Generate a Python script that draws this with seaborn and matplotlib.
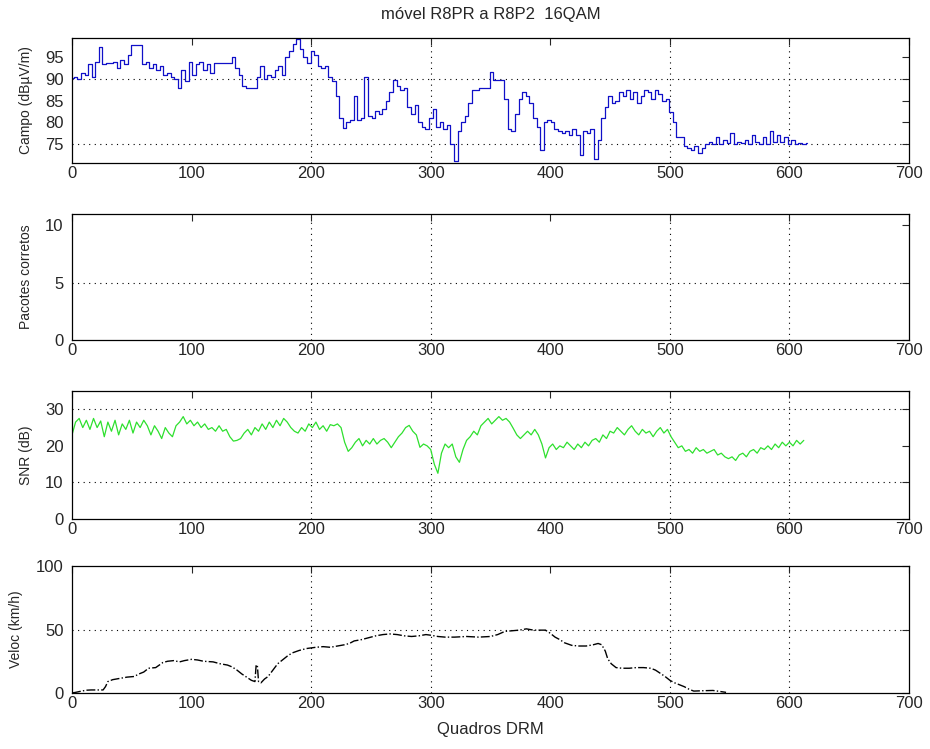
import numpy as np
import seaborn as sns
import matplotlib.pyplot as plt

# field strength (dBuV/m), sampled every 3 frames
campo_x = list(range(0, 616, 3))
campo_y = [90.2, 90.5, 90, 91.3, 91, 93.5, 90.5, 94, 97.5, 93.5, 93.7, 93.7, 94, 92.5, 94.5,
           93.5, 95.5, 97.8, 97.8, 97.8, 93.5, 94, 92.5, 93.5, 92, 93, 91, 91.5, 90.5, 90,
           88, 92, 89.5, 94, 91, 93.5, 94, 92, 93.5, 91.5, 93.7, 93.7, 93.7, 93.7, 93.7,
           95.2, 92.5, 91, 88.5, 88, 88, 88, 90.5, 93, 90, 91, 90.5, 92, 93, 91,
           95, 96.5, 98, 99.3, 97, 95, 93.7, 96.5, 95.5, 93, 92.5, 93, 90.5, 89.5, 86,
           81, 78.8, 80, 80.5, 86, 80.5, 81, 90.5, 81.5, 81, 82.6, 82, 83, 85, 87,
           89.8, 88.5, 87.5, 88, 83.5, 82, 84, 80, 79, 78.5, 81, 83, 79, 80, 78.5,
           79.5, 75, 71, 78, 80, 81.5, 84.5, 87.5, 87.5, 88, 88, 88, 91.6, 89.8, 89.8,
           89.8, 85.5, 78.5, 78, 82, 85.5, 87, 86, 84.5, 81, 79, 73.6, 80, 80.5, 80,
           78.5, 78, 77.5, 78, 77, 78.5, 77, 72.5, 78, 77.5, 78.5, 71.5, 76, 81, 83.5,
           86, 84.5, 85, 87, 86, 87.5, 85.5, 87, 84.5, 86, 87.5, 87, 85.5, 87.5, 86.5,
           85, 85.5, 82.5, 80, 76.6, 76.5, 74.5, 74, 73.5, 74.5, 73, 74, 75, 75.5, 75,
           76.5, 75, 76, 75.3, 77.5, 75, 75.5, 75.2, 76, 75, 77, 75.5, 75, 76.5, 75,
           78, 75.5, 77, 75.5, 76.5, 75, 76, 75, 75.2, 75, 75.3]

# SNR (dB), sampled every 3 frames
snr_x = list(range(0, 613, 3))
snr_y = [23, 26.5, 27.5, 25, 27, 24.5, 27.5, 25, 26.8, 22.5, 26.5, 24, 27, 23, 26,
         24.5, 27, 23.5, 26.5, 25, 27, 25.5, 23, 25.5, 24, 22, 25, 23.5, 22.5, 25.5,
         26.5, 28, 26, 27, 25.5, 26.5, 25, 26, 24.5, 25, 24, 25.5, 24, 24.5, 22.5,
         21.3, 21.5, 22, 23.5, 24.5, 23, 25, 24, 26, 24.5, 26.5, 25, 27, 25.5, 27.5,
         26.5, 25, 24, 23.5, 25, 24, 26, 25, 26.5, 24.5, 25.5, 24, 25.8, 25.5, 26,
         25, 21, 18.5, 19.5, 21, 22, 20, 21.5, 20.5, 22, 20.5, 21.5, 22, 21, 19.5,
         21, 22.5, 23.5, 25, 25.6, 24, 23, 19.6, 20.5, 20, 19, 15, 12.5, 18, 20.5,
         19.5, 20.5, 17, 15.5, 19, 21.5, 22.5, 24, 23, 25.5, 26.5, 27.5, 26, 27, 28,
         27, 27.5, 26.5, 24.8, 23, 22, 23, 24, 23, 24.5, 23, 20.5, 16.7, 19.5, 20.5,
         19, 20, 19.5, 21, 20, 19, 20.5, 19.5, 21, 20, 21.5, 22, 21, 23, 22,
         24, 23.5, 25, 24, 23, 24.5, 25.5, 24, 23, 24.5, 23.5, 24, 22.5, 24, 25,
         23.5, 24.5, 22.5, 21, 19.5, 20, 18.5, 19, 18, 19.5, 18.5, 19, 18, 18.5, 19,
         17.5, 18, 17, 16.5, 17, 16, 17.5, 18, 17, 18.5, 19, 18, 19.5, 19, 20,
         19, 20.5, 19.5, 21, 20, 21, 20, 21.5, 20.5, 21.5]

# speed (km/h)
veloc_x = [0, 3, 8, 12, 16, 22, 26, 28, 30, 34, 40, 46, 52, 56, 60, 64, 70, 76, 80, 85,
           90, 94, 100, 105, 110, 118, 124, 130, 134, 138, 142, 146, 150, 153, 154, 155,
           156, 158, 161, 164, 168, 172, 176, 180, 184, 190, 196, 200, 204, 210, 216,
           222, 228, 232, 236, 242, 248, 254, 260, 266, 272, 278, 284, 290, 296, 300,
           306, 312, 320, 330, 340, 350, 356, 362, 368, 374, 380, 386, 392, 396, 400,
           404, 408, 412, 418, 424, 430, 436, 440, 443, 446, 448, 451, 455, 460, 466,
           472, 478, 484, 488, 492, 496, 500, 504, 508, 512, 516, 520, 528, 536, 542, 547]
veloc_y = [0, 0.5, 1.5, 2.2, 2.4, 2.4, 2.4, 5, 9, 10.5, 11.5, 12.5, 13, 15, 16.5, 19.5,
           20, 24, 25, 25.5, 24.5, 25.5, 26.5, 26, 25, 24.5, 23, 22, 20.5, 18, 15, 12.5,
           10, 9, 22, 22, 9, 8, 11, 13, 18, 23, 26, 29, 31.5, 33.5, 35, 35.5, 36, 36.5,
           36, 37, 38, 39, 41, 42, 43.5, 45, 46, 46.5, 46, 45, 44.5, 45, 46, 45.5, 44.5,
           44, 44, 44.5, 44, 44.5, 46, 48.5, 49, 49.5, 50.5, 49.5, 49.5, 49.5, 47, 44,
           42, 39.5, 37.5, 37, 37, 38, 39, 38, 33, 27, 23, 20, 19.5, 19.5, 20, 20,
           19.5, 18, 15.5, 13, 10, 8, 6.5, 5, 3, 1.5, 1.8, 2, 1.2, 0.5]

x_ticks = [0, 100, 200, 300, 400, 500, 600, 700]

sns.set_style("white")
plt.rcParams['font.family'] = ['Liberation Sans', 'DejaVu Sans']

fig = plt.figure(figsize=(9.3, 7.49), dpi=100)
left, width = 72 / 930, 837 / 930
boxes = [(38, 163), (214, 340), (391, 519), (566, 693)]
axes = [fig.add_axes([left, 1 - b / 749, width, (b - t) / 749]) for t, b in boxes]
ax1, ax2, ax3, ax4 = axes

sns.lineplot(x=campo_x, y=campo_y, ax=ax1, color='#1010c8', linewidth=0.9,
             drawstyle='steps-mid', estimator=None, sort=False)
sns.lineplot(x=snr_x, y=snr_y, ax=ax3, color='#2ee02e', linewidth=0.9,
             estimator=None, sort=False)
sns.lineplot(x=veloc_x, y=veloc_y, ax=ax4, color='black', linewidth=1,
             linestyle='-.', estimator=None, sort=False)

ax1.set_ylim(70.6, 99.5)
ax1.set_yticks([75, 80, 85, 90, 95])
ax2.set_ylim(0, 11)
ax2.set_yticks([0, 5, 10])
ax3.set_ylim(0, 35)
ax3.set_yticks([0, 10, 20, 30])
ax4.set_ylim(0, 100)
ax4.set_yticks([0, 50, 100])

hgrid = [[75, 90], [5], [10, 30], [50]]
labels = ['Campo (dBµV/m)', 'Pacotes corretos', 'SNR (dB)', 'Veloc (km/h)']
for ax, hg, lab in zip(axes, hgrid, labels):
    ax.set_xlim(0, 700)
    ax.set_xticks(x_ticks)
    for v in [200, 300, 500, 600]:
        ax.axvline(v, color='black', linestyle=(0, (1, 4)), linewidth=0.8, zorder=0)
    for h in hg:
        ax.axhline(h, color='black', linestyle=(0, (1, 4)), linewidth=0.8, zorder=0)
    ax.tick_params(direction='in', top=True, right=True, length=5, width=0.8,
                   labelsize=12)
    ax.tick_params(axis='x', pad=2)
    ax.tick_params(axis='y', pad=6)
    for s in ax.spines.values():
        s.set_color('black')
        s.set_linewidth(0.9)
    ax.set_ylabel(lab, fontsize=10, labelpad=9)
    ax.set_xlabel('')

ax1.set_title('móvel R8PR a R8P2  16QAM', fontsize=12, pad=14)
ax4.set_xlabel('Quadros DRM', fontsize=12, labelpad=8)

fig.savefig('out.png', dpi=100)
